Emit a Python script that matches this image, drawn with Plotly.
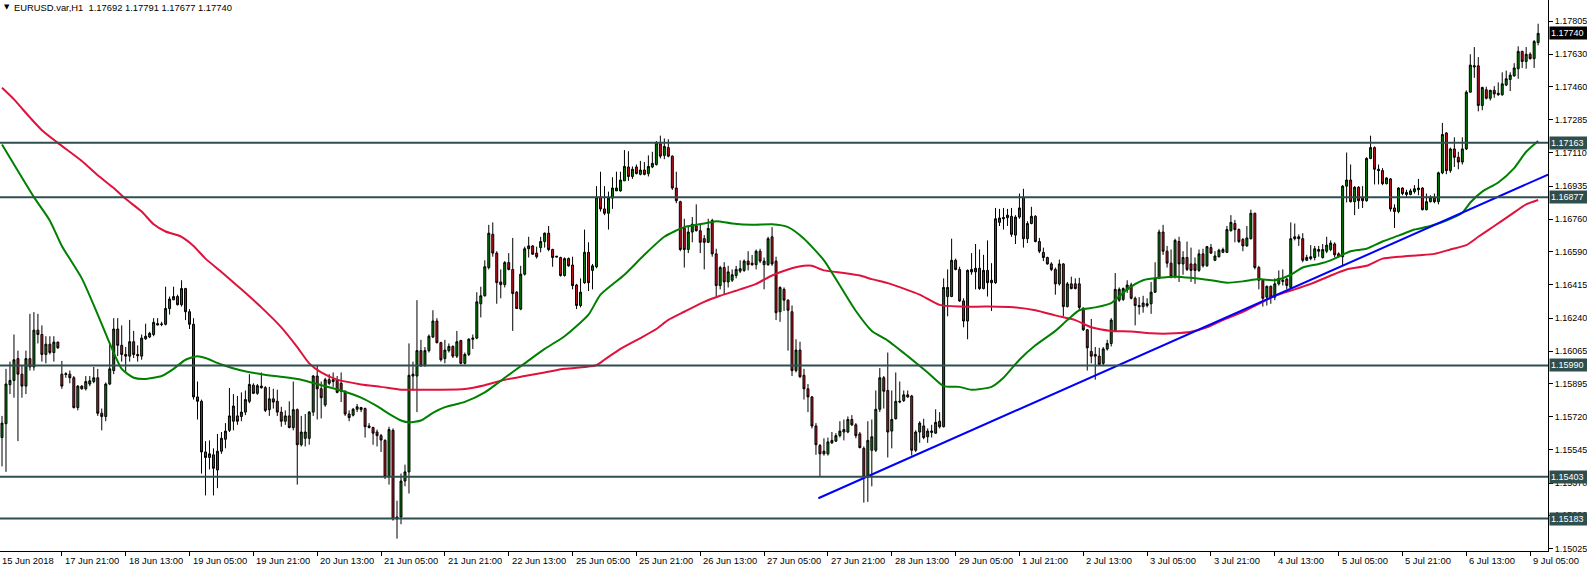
import plotly.graph_objects as go

# ---------------- data (EURUSD H1, bars indexed 0..385 from 15 Jun 2018 06:00) ----------------
opens = [
    1.15610, 1.15683, 1.15888, 1.15911, 1.16026, 1.15944, 1.15881, 1.16026, 1.15982, 1.16176,
    1.16153, 1.16048, 1.16102, 1.16058, 1.16113, 1.15944, 1.15942, 1.15944, 1.15925, 1.15768,
    1.15881, 1.15867, 1.15892, 1.15905, 1.15925, 1.15738, 1.15721, 1.15892, 1.15963, 1.16182,
    1.16096, 1.16048, 1.16039, 1.16115, 1.16048, 1.16039, 1.16130, 1.16140, 1.16153, 1.16203,
    1.16206, 1.16207, 1.16290, 1.16336, 1.16353, 1.16310, 1.16395, 1.16273, 1.16207, 1.15824,
    1.15801, 1.15534, 1.15505, 1.15519, 1.15439, 1.15538,
    1.15601, 1.15648, 1.15696, 1.15724, 1.15721, 1.15744, 1.15801, 1.15886, 1.15843, 1.15881,
    1.15873, 1.15757, 1.15814, 1.15801, 1.15744, 1.15696, 1.15724, 1.15662, 1.15757, 1.15572,
    1.15606, 1.15606, 1.15744, 1.15934, 1.15867, 1.15782, 1.15915, 1.15905, 1.15915, 1.15896,
    1.15854, 1.15734, 1.15728, 1.15759, 1.15768, 1.15763, 1.15671, 1.15663, 1.15639, 1.15620,
    1.15595, 1.15404, 1.15648, 1.15191, 1.15191, 1.15381, 1.15429, 1.15944, 1.15934, 1.16068,
    1.15991, 1.16068, 1.16140, 1.16224, 1.16110,
    1.16026, 1.16068, 1.16090, 1.16039, 1.16121, 1.16001, 1.16048, 1.16128, 1.16134, 1.16315,
    1.16357, 1.16506, 1.16681, 1.16582, 1.16430, 1.16416, 1.16532, 1.16496, 1.16376, 1.16287,
    1.16471, 1.16605, 1.16620, 1.16582, 1.16611, 1.16643, 1.16687, 1.16601, 1.16561, 1.16559,
    1.16464, 1.16553, 1.16519, 1.16414, 1.16306, 1.16426, 1.16586, 1.16491, 1.16510, 1.16877,
    1.16815, 1.16792, 1.16872, 1.16910, 1.16910, 1.16963, 1.17036, 1.16986, 1.17036, 1.16997,
    1.17020, 1.17001, 1.17036, 1.17049, 1.17158,
    1.17097, 1.17138, 1.17093, 1.16925, 1.16853, 1.16715, 1.16601, 1.16693, 1.16725, 1.16700,
    1.16658, 1.16639, 1.16754, 1.16578, 1.16411, 1.16506, 1.16430, 1.16439, 1.16464, 1.16487,
    1.16491, 1.16540, 1.16529, 1.16521, 1.16592, 1.16521, 1.16521, 1.16668, 1.16540, 1.16273,
    1.16391, 1.16334, 1.16273, 1.15963, 1.16071, 1.15938, 1.15867, 1.15824, 1.15671, 1.15568,
    1.15524, 1.15524, 1.15582, 1.15591, 1.15620, 1.15639, 1.15639, 1.15705, 1.15677, 1.15629,
    1.15553, 1.15401, 1.15543, 1.15543, 1.15759, 1.15925,
    1.15858, 1.15644, 1.15709, 1.15797, 1.15805, 1.15835, 1.15829, 1.15543, 1.15639, 1.15671,
    1.15614, 1.15637, 1.15633, 1.15696, 1.15667, 1.16353, 1.16353, 1.16544, 1.16496, 1.16330,
    1.16224, 1.16483, 1.16483, 1.16502, 1.16395, 1.16491, 1.16426, 1.16426, 1.16744, 1.16763,
    1.16769, 1.16776, 1.16677, 1.16772, 1.16877, 1.16658, 1.16738, 1.16776, 1.16643, 1.16586,
    1.16559, 1.16525, 1.16496, 1.16420, 1.16525, 1.16300, 1.16420, 1.16420, 1.16420, 1.16292,
    1.16178, 1.16064, 1.16048, 1.16039, 1.16001, 1.16077,
    1.16106, 1.16172, 1.16334, 1.16338, 1.16388, 1.16414, 1.16344, 1.16306, 1.16300, 1.16306,
    1.16315, 1.16376, 1.16449, 1.16693, 1.16592, 1.16529, 1.16458, 1.16643, 1.16525, 1.16559,
    1.16525, 1.16525, 1.16491, 1.16578, 1.16515, 1.16611, 1.16544, 1.16563, 1.16586, 1.16586,
    1.16700, 1.16738, 1.16706, 1.16654, 1.16620, 1.16658, 1.16792, 1.16506, 1.16439, 1.16350,
    1.16407, 1.16350, 1.16420, 1.16433, 1.16445, 1.16401, 1.16668, 1.16668, 1.16658, 1.16544,
    1.16553, 1.16559, 1.16601, 1.16559, 1.16592, 1.16601,
    1.16630, 1.16578, 1.16563, 1.16935, 1.16967, 1.16853, 1.16929, 1.16872, 1.16858, 1.17081,
    1.17138, 1.17024, 1.17017, 1.16948, 1.16973, 1.16820, 1.16801, 1.16925, 1.16902, 1.16891,
    1.16906, 1.16916, 1.16925, 1.16811, 1.16853, 1.16872, 1.16853, 1.17005, 1.17215, 1.17017,
    1.17131, 1.17087, 1.17062, 1.17131, 1.17430, 1.17563, 1.17569, 1.17360, 1.17443, 1.17398,
    1.17440, 1.17417, 1.17417, 1.17468, 1.17497, 1.17516, 1.17554, 1.17645, 1.17592, 1.17630,
    1.17607, 1.17692,
]

highs = [
    1.15724, 1.15972, 1.16010, 1.16153, 1.16068, 1.15991, 1.16068, 1.16262, 1.16271, 1.16262,
    1.16201, 1.16144, 1.16144, 1.16144, 1.16115, 1.16014, 1.15954, 1.15963, 1.15934, 1.15886,
    1.15886, 1.15934, 1.15934, 1.15982, 1.15972, 1.15763, 1.15900, 1.16106, 1.16239, 1.16239,
    1.16201, 1.16087, 1.16230, 1.16172, 1.16096, 1.16153, 1.16210, 1.16167, 1.16239, 1.16239,
    1.16220, 1.16405, 1.16353, 1.16405, 1.16363, 1.16439, 1.16399, 1.16287, 1.16239, 1.15905,
    1.15810, 1.15591, 1.15595, 1.15553, 1.15629, 1.15639,
    1.15686, 1.15871, 1.15839, 1.15829, 1.15848, 1.15858, 1.15944, 1.15896, 1.15892, 1.15953,
    1.15881, 1.15877, 1.15867, 1.15862, 1.15772, 1.15753, 1.15801, 1.15905, 1.15763, 1.15724,
    1.15734, 1.15750, 1.15940, 1.15991, 1.15905, 1.15925, 1.15944, 1.15953, 1.15934, 1.15953,
    1.15858, 1.15753, 1.15766, 1.15787, 1.15772, 1.15768, 1.15686, 1.15667, 1.15652, 1.15629,
    1.15601, 1.15667, 1.15658, 1.15277, 1.15420, 1.15467, 1.16106, 1.16010, 1.16334, 1.16125,
    1.16087, 1.16153, 1.16281, 1.16239, 1.16115,
    1.16125, 1.16106, 1.16096, 1.16172, 1.16125, 1.16058, 1.16134, 1.16153, 1.16376, 1.16405,
    1.16544, 1.16731, 1.16744, 1.16592, 1.16496, 1.16540, 1.16582, 1.16662, 1.16382, 1.16515,
    1.16616, 1.16668, 1.16624, 1.16616, 1.16668, 1.16691, 1.16725, 1.16605, 1.16567, 1.16563,
    1.16559, 1.16559, 1.16563, 1.16420, 1.16449, 1.16706, 1.16639, 1.16525, 1.16935, 1.17011,
    1.16935, 1.16906, 1.16982, 1.17011, 1.17011, 1.17125, 1.17119, 1.17039, 1.17049, 1.17068,
    1.17062, 1.17097, 1.17116, 1.17173, 1.17201,
    1.17186, 1.17182, 1.17097, 1.17011, 1.16858, 1.16763, 1.16725, 1.16772, 1.16839, 1.16734,
    1.16677, 1.16763, 1.16763, 1.16605, 1.16515, 1.16534, 1.16515, 1.16496, 1.16515, 1.16544,
    1.16548, 1.16592, 1.16572, 1.16601, 1.16605, 1.16559, 1.16668, 1.16719, 1.16563, 1.16407,
    1.16401, 1.16338, 1.16306, 1.16128, 1.16115, 1.15972, 1.15892, 1.15829, 1.15686, 1.15576,
    1.15606, 1.15610, 1.15639, 1.15633, 1.15696, 1.15705, 1.15721, 1.15728, 1.15686, 1.15639,
    1.15563, 1.15696, 1.15705, 1.15858, 1.15976, 1.15934,
    1.16058, 1.15858, 1.15953, 1.15905, 1.15858, 1.15858, 1.15835, 1.15648, 1.15696, 1.15709,
    1.15658, 1.15677, 1.15759, 1.15744, 1.16449, 1.16496, 1.16658, 1.16553, 1.16510, 1.16344,
    1.16496, 1.16582, 1.16630, 1.16601, 1.16573, 1.16649, 1.16529, 1.16820, 1.16815, 1.16820,
    1.16815, 1.16820, 1.16782, 1.16896, 1.16921, 1.16750, 1.16826, 1.16782, 1.16662, 1.16611,
    1.16563, 1.16534, 1.16506, 1.16548, 1.16529, 1.16430, 1.16458, 1.16449, 1.16452, 1.16296,
    1.16182, 1.16235, 1.16087, 1.16083, 1.16087, 1.16125,
    1.16239, 1.16477, 1.16401, 1.16401, 1.16439, 1.16426, 1.16353, 1.16350, 1.16357, 1.16344,
    1.16430, 1.16534, 1.16706, 1.16731, 1.16620, 1.16601, 1.16658, 1.16668, 1.16592, 1.16643,
    1.16611, 1.16559, 1.16601, 1.16605, 1.16620, 1.16630, 1.16592, 1.16605, 1.16611, 1.16725,
    1.16782, 1.16757, 1.16712, 1.16662, 1.16725, 1.16811, 1.16795, 1.16515, 1.16445, 1.16411,
    1.16411, 1.16449, 1.16491, 1.16496, 1.16452, 1.16744, 1.16738, 1.16681, 1.16687, 1.16573,
    1.16624, 1.16620, 1.16620, 1.16630, 1.16668, 1.16649,
    1.16639, 1.16586, 1.16940, 1.17112, 1.17049, 1.16935, 1.16935, 1.16935, 1.17087, 1.17201,
    1.17144, 1.17049, 1.17030, 1.16982, 1.16978, 1.16839, 1.16929, 1.16929, 1.16916, 1.16921,
    1.16940, 1.16973, 1.16929, 1.16896, 1.16887, 1.16896, 1.17011, 1.17268, 1.17220, 1.17138,
    1.17192, 1.17116, 1.17192, 1.17440, 1.17630, 1.17668, 1.17615, 1.17459, 1.17459, 1.17443,
    1.17462, 1.17482, 1.17535, 1.17544, 1.17535, 1.17583, 1.17672, 1.17649, 1.17668, 1.17640,
    1.17705, 1.17791,
]

lows = [
    1.15458, 1.15429, 1.15839, 1.15820, 1.15591, 1.15820, 1.15839, 1.15963, 1.15963, 1.16106,
    1.16010, 1.16001, 1.16048, 1.16010, 1.16077, 1.15867, 1.15925, 1.15896, 1.15763, 1.15753,
    1.15862, 1.15858, 1.15881, 1.15896, 1.15724, 1.15648, 1.15696, 1.15886, 1.15944, 1.16039,
    1.16010, 1.15957, 1.16010, 1.16029, 1.16010, 1.16020, 1.16125, 1.16134, 1.16144, 1.16201,
    1.16197, 1.16201, 1.16258, 1.16334, 1.16306, 1.16300, 1.16229, 1.16182, 1.15810, 1.15705,
    1.15420, 1.15305, 1.15442, 1.15305, 1.15343, 1.15524,
    1.15553, 1.15639, 1.15648, 1.15677, 1.15696, 1.15728, 1.15791, 1.15839, 1.15835, 1.15867,
    1.15744, 1.15724, 1.15763, 1.15724, 1.15667, 1.15677, 1.15658, 1.15648, 1.15362, 1.15563,
    1.15563, 1.15572, 1.15724, 1.15705, 1.15711, 1.15772, 1.15886, 1.15877, 1.15843, 1.15797,
    1.15724, 1.15696, 1.15721, 1.15744, 1.15744, 1.15610, 1.15658, 1.15572, 1.15563, 1.15534,
    1.15391, 1.15362, 1.15172, 1.15077, 1.15153, 1.15353, 1.15315, 1.15858, 1.15744, 1.15982,
    1.15982, 1.16058, 1.16134, 1.16106, 1.16010,
    1.16001, 1.16058, 1.16029, 1.16029, 1.15995, 1.15995, 1.16039, 1.16077, 1.16128, 1.16243,
    1.16353, 1.16496, 1.16563, 1.16315, 1.16344, 1.16401, 1.16491, 1.16172, 1.16287, 1.16281,
    1.16464, 1.16559, 1.16573, 1.16553, 1.16586, 1.16611, 1.16592, 1.16510, 1.16559, 1.16458,
    1.16458, 1.16510, 1.16391, 1.16287, 1.16296, 1.16420, 1.16382, 1.16391, 1.16502, 1.16801,
    1.16782, 1.16706, 1.16815, 1.16910, 1.16906, 1.16963, 1.16963, 1.16973, 1.16997, 1.16992,
    1.16992, 1.16986, 1.17030, 1.17043, 1.17081,
    1.17077, 1.17087, 1.16915, 1.16845, 1.16592, 1.16506, 1.16582, 1.16639, 1.16696, 1.16582,
    1.16496, 1.16635, 1.16563, 1.16353, 1.16391, 1.16363, 1.16401, 1.16430, 1.16449, 1.16477,
    1.16483, 1.16491, 1.16515, 1.16496, 1.16529, 1.16391, 1.16515, 1.16515, 1.16229, 1.16220,
    1.16277, 1.16068, 1.15934, 1.15953, 1.15925, 1.15810, 1.15744, 1.15658, 1.15519, 1.15404,
    1.15515, 1.15515, 1.15576, 1.15587, 1.15610, 1.15595, 1.15633, 1.15671, 1.15606, 1.15553,
    1.15267, 1.15271, 1.15353, 1.15534, 1.15744, 1.15763,
    1.15505, 1.15553, 1.15705, 1.15791, 1.15797, 1.15820, 1.15515, 1.15534, 1.15582, 1.15601,
    1.15582, 1.15610, 1.15629, 1.15658, 1.15663, 1.16249, 1.16350, 1.16491, 1.16325, 1.16191,
    1.16128, 1.16468, 1.16391, 1.16388, 1.16391, 1.16353, 1.16277, 1.16420, 1.16725, 1.16706,
    1.16725, 1.16668, 1.16630, 1.16763, 1.16611, 1.16635, 1.16734, 1.16639, 1.16582, 1.16540,
    1.16521, 1.16487, 1.16363, 1.16411, 1.16249, 1.16296, 1.16391, 1.16391, 1.16277, 1.16172,
    1.15963, 1.16001, 1.15915, 1.15991, 1.15991, 1.16068,
    1.16090, 1.16167, 1.16325, 1.16330, 1.16372, 1.16338, 1.16201, 1.16258, 1.16268, 1.16296,
    1.16262, 1.16372, 1.16445, 1.16573, 1.16506, 1.16449, 1.16449, 1.16430, 1.16468, 1.16487,
    1.16430, 1.16420, 1.16483, 1.16506, 1.16510, 1.16578, 1.16540, 1.16559, 1.16582, 1.16582,
    1.16696, 1.16639, 1.16635, 1.16592, 1.16616, 1.16654, 1.16496, 1.16391, 1.16300, 1.16306,
    1.16315, 1.16334, 1.16411, 1.16411, 1.16391, 1.16391, 1.16649, 1.16620, 1.16534, 1.16540,
    1.16544, 1.16544, 1.16563, 1.16553, 1.16582, 1.16592,
    1.16559, 1.16559, 1.16515, 1.16849, 1.16849, 1.16782, 1.16815, 1.16820, 1.16853, 1.17077,
    1.16944, 1.16944, 1.16940, 1.16944, 1.16801, 1.16715, 1.16792, 1.16887, 1.16877, 1.16887,
    1.16896, 1.16887, 1.16807, 1.16807, 1.16849, 1.16845, 1.16839, 1.16998, 1.16998, 1.17005,
    1.17036, 1.17024, 1.17049, 1.17125, 1.17430, 1.17506, 1.17329, 1.17335, 1.17392, 1.17386,
    1.17401, 1.17411, 1.17411, 1.17462, 1.17436, 1.17512, 1.17501, 1.17558, 1.17554, 1.17602,
    1.17558, 1.17677,
]

closes = [
    1.15686, 1.15892, 1.15911, 1.16020, 1.15944, 1.15881, 1.16026, 1.15982, 1.16176, 1.16153,
    1.16048, 1.16102, 1.16058, 1.16113, 1.16083, 1.15881, 1.15946, 1.15925, 1.15768, 1.15881,
    1.15867, 1.15905, 1.15909, 1.15925, 1.15738, 1.15721, 1.15892, 1.15972, 1.16182, 1.16096,
    1.16048, 1.16039, 1.16115, 1.16048, 1.16041, 1.16134, 1.16144, 1.16159, 1.16217, 1.16210,
    1.16208, 1.16290, 1.16340, 1.16353, 1.16310, 1.16395, 1.16273, 1.16207, 1.15824, 1.15801,
    1.15534, 1.15505, 1.15524, 1.15448, 1.15538, 1.15606,
    1.15644, 1.15724, 1.15776, 1.15696, 1.15744, 1.15810, 1.15890, 1.15843, 1.15883, 1.15873,
    1.15753, 1.15814, 1.15797, 1.15744, 1.15696, 1.15724, 1.15663, 1.15757, 1.15572, 1.15639,
    1.15639, 1.15744, 1.15934, 1.15867, 1.15820, 1.15915, 1.15896, 1.15915, 1.15848, 1.15854,
    1.15734, 1.15715, 1.15759, 1.15772, 1.15757, 1.15667, 1.15663, 1.15633, 1.15620, 1.15597,
    1.15404, 1.15652, 1.15181, 1.15181, 1.15381, 1.15429, 1.15938, 1.15934, 1.16068, 1.15988,
    1.16068, 1.16144, 1.16224, 1.16110, 1.16020,
    1.16071, 1.16090, 1.16039, 1.16115, 1.16001, 1.16048, 1.16128, 1.16134, 1.16325, 1.16357,
    1.16510, 1.16687, 1.16582, 1.16426, 1.16416, 1.16532, 1.16496, 1.16369, 1.16290, 1.16471,
    1.16605, 1.16620, 1.16576, 1.16563, 1.16643, 1.16687, 1.16601, 1.16559, 1.16565, 1.16464,
    1.16553, 1.16515, 1.16411, 1.16306, 1.16376, 1.16586, 1.16426, 1.16515, 1.16877, 1.16815,
    1.16792, 1.16872, 1.16925, 1.16925, 1.16967, 1.17039, 1.16986, 1.17024, 1.17001, 1.17020,
    1.16997, 1.17039, 1.17055, 1.17163, 1.17093,
    1.17144, 1.17093, 1.16925, 1.16858, 1.16601, 1.16601, 1.16693, 1.16734, 1.16700, 1.16639,
    1.16639, 1.16712, 1.16578, 1.16411, 1.16506, 1.16430, 1.16483, 1.16468, 1.16496, 1.16500,
    1.16540, 1.16521, 1.16521, 1.16592, 1.16540, 1.16540, 1.16658, 1.16525, 1.16268, 1.16401,
    1.16334, 1.16281, 1.15963, 1.16071, 1.15930, 1.15867, 1.15824, 1.15671, 1.15572, 1.15524,
    1.15538, 1.15587, 1.15595, 1.15620, 1.15644, 1.15652, 1.15705, 1.15677, 1.15620, 1.15557,
    1.15401, 1.15595, 1.15614, 1.15759, 1.15925, 1.15854,
    1.15639, 1.15705, 1.15801, 1.15801, 1.15835, 1.15824, 1.15543, 1.15639, 1.15686, 1.15610,
    1.15644, 1.15644, 1.15690, 1.15667, 1.16401, 1.16401, 1.16544, 1.16496, 1.16330, 1.16224,
    1.16491, 1.16496, 1.16502, 1.16395, 1.16491, 1.16426, 1.16439, 1.16763, 1.16767, 1.16769,
    1.16782, 1.16681, 1.16772, 1.16820, 1.16658, 1.16738, 1.16776, 1.16643, 1.16592, 1.16559,
    1.16525, 1.16496, 1.16420, 1.16525, 1.16300, 1.16420, 1.16395, 1.16395, 1.16296, 1.16178,
    1.16083, 1.16039, 1.16039, 1.15995, 1.16077, 1.16106,
    1.16229, 1.16391, 1.16391, 1.16395, 1.16414, 1.16344, 1.16306, 1.16300, 1.16319, 1.16315,
    1.16376, 1.16449, 1.16693, 1.16592, 1.16529, 1.16458, 1.16649, 1.16525, 1.16559, 1.16496,
    1.16491, 1.16491, 1.16578, 1.16515, 1.16616, 1.16582, 1.16567, 1.16597, 1.16601, 1.16706,
    1.16744, 1.16706, 1.16643, 1.16620, 1.16662, 1.16792, 1.16506, 1.16439, 1.16344, 1.16407,
    1.16350, 1.16420, 1.16449, 1.16439, 1.16411, 1.16658, 1.16658, 1.16658, 1.16544, 1.16559,
    1.16563, 1.16605, 1.16592, 1.16601, 1.16624, 1.16635,
    1.16573, 1.16563, 1.16935, 1.16967, 1.16853, 1.16929, 1.16858, 1.16858, 1.17081, 1.17138,
    1.17024, 1.17017, 1.16948, 1.16978, 1.16815, 1.16801, 1.16925, 1.16896, 1.16891, 1.16910,
    1.16921, 1.16925, 1.16811, 1.16853, 1.16877, 1.16853, 1.17005, 1.17207, 1.17017, 1.17131,
    1.17087, 1.17062, 1.17131, 1.17430, 1.17573, 1.17569, 1.17360, 1.17455, 1.17398, 1.17440,
    1.17421, 1.17424, 1.17474, 1.17501, 1.17520, 1.17558, 1.17645, 1.17592, 1.17630, 1.17607,
    1.17697, 1.17740,
]

# moving averages (bar index, price)
ma_fast_bars = [0, 8, 12, 15, 20, 24, 27, 30, 33, 36, 40, 43, 46, 49, 51, 55, 60, 65, 70, 75,
                80, 85, 90, 94, 97, 100, 102, 105, 108, 111, 116, 121, 126, 131, 136, 141, 147, 150,
                156, 161, 166, 171, 176, 179, 183, 188, 193, 197, 201, 206, 210, 214, 218, 222, 227,
                232, 236, 240, 243, 248, 251, 255, 259, 264, 267, 270, 274, 278, 282, 286, 290, 294,
                298, 303, 307, 311, 315, 319, 323, 326, 330, 333, 338, 342, 346, 350, 354, 358, 362,
                366, 368, 371, 375, 379, 382, 385]
ma_fast_vals = [1.17154, 1.16877, 1.16753, 1.16620, 1.16449, 1.16258, 1.16106, 1.15972, 1.15925,
                1.15919, 1.15934, 1.15972, 1.16020, 1.16039, 1.16029, 1.15995, 1.15963, 1.15944,
                1.15930, 1.15915, 1.15886, 1.15858, 1.15820, 1.15775, 1.15735, 1.15700, 1.15690,
                1.15700, 1.15740, 1.15770, 1.15798, 1.15848, 1.15925, 1.16001, 1.16077, 1.16144,
                1.16258, 1.16363, 1.16468, 1.16573, 1.16668, 1.16719, 1.16738, 1.16750, 1.16738,
                1.16731, 1.16734, 1.16719, 1.16658, 1.16544, 1.16411, 1.16277, 1.16172, 1.16121,
                1.16039, 1.15953, 1.15881, 1.15877, 1.15862, 1.15877, 1.15925, 1.16020, 1.16096,
                1.16172, 1.16229, 1.16281, 1.16296, 1.16319, 1.16391, 1.16439, 1.16452, 1.16458,
                1.16452, 1.16439, 1.16426, 1.16433, 1.16445, 1.16439, 1.16468, 1.16506, 1.16525,
                1.16544, 1.16592, 1.16605, 1.16643, 1.16674, 1.16706, 1.16725, 1.16754, 1.16795,
                1.16849, 1.16906, 1.16954, 1.17030, 1.17116, 1.17173]

ma_slow_bars = [0, 3, 7, 10, 14, 20, 24, 28, 31, 35, 38, 41, 45, 48, 51, 55, 60, 65, 70, 74, 77,
                80, 84, 90, 95, 100, 105, 110, 116, 121, 126, 131, 136, 141, 146, 149, 151, 155, 160,
                164, 167, 171, 176, 180, 185, 189, 193, 197, 201, 203, 206, 211, 215, 218, 222, 226,
                230, 235, 240, 247, 254, 259, 264, 269, 273, 278, 283, 288, 294, 298, 302, 306, 311,
                315, 319, 324, 328, 334, 337, 342, 346, 350, 355, 359, 363, 367, 370, 374, 378, 382,
                385]
ma_slow_vals = [1.17453, 1.17392, 1.17297, 1.17230, 1.17163, 1.17068, 1.16992, 1.16925, 1.16868,
                1.16801, 1.16734, 1.16696, 1.16668, 1.16620, 1.16553, 1.16483, 1.16391, 1.16296,
                1.16191, 1.16087, 1.16001, 1.15953, 1.15915, 1.15890, 1.15877, 1.15862, 1.15862,
                1.15862, 1.15866, 1.15886, 1.15915, 1.15934, 1.15953, 1.15972, 1.15982, 1.15991,
                1.16020, 1.16077, 1.16134, 1.16182, 1.16230, 1.16273, 1.16325, 1.16357, 1.16391,
                1.16420, 1.16464, 1.16496, 1.16515, 1.16515, 1.16491, 1.16477, 1.16464, 1.16445,
                1.16424, 1.16395, 1.16363, 1.16309, 1.16300, 1.16300, 1.16296, 1.16281, 1.16254,
                1.16229, 1.16191, 1.16172, 1.16169, 1.16159, 1.16159, 1.16167, 1.16191, 1.16229,
                1.16273, 1.16315, 1.16357, 1.16391, 1.16420, 1.16472, 1.16496, 1.16515, 1.16553,
                1.16563, 1.16571, 1.16578, 1.16601, 1.16624, 1.16668, 1.16725, 1.16782, 1.16839,
                1.16862]

# trend line anchors (bar index, price)
trend_bars = [204.6, 387.5]
trend_prices = [1.15290, 1.16996]

# horizontal levels
levels = [1.17163, 1.16877, 1.15990, 1.15403, 1.15183]

# price scale labels
price_ticks = [1.17805, 1.17630, 1.17460, 1.17285, 1.17110, 1.16935, 1.16760, 1.16590, 1.16415,
               1.16240, 1.16065, 1.15895, 1.15720, 1.15545, 1.15370, 1.15200, 1.15025]

# time scale labels
time_labels = ["17 Jun 21:00", "18 Jun 13:00", "19 Jun 05:00", "19 Jun 21:00", "20 Jun 13:00",
               "21 Jun 05:00", "21 Jun 21:00", "22 Jun 13:00", "25 Jun 05:00", "25 Jun 21:00",
               "26 Jun 13:00", "27 Jun 05:00", "27 Jun 21:00", "28 Jun 13:00", "29 Jun 05:00",
               "1 Jul 21:00", "2 Jul 13:00", "3 Jul 05:00", "3 Jul 21:00", "4 Jul 13:00",
               "5 Jul 05:00", "5 Jul 21:00", "6 Jul 13:00", "9 Jul 05:00"]
time_label_bars = [15 + 16 * k for k in range(len(time_labels))]
first_label = "15 Jun 2018"

symbol_text = "EURUSD.var,H1\u00a0\u00a01.17692 1.17791 1.17677 1.17740"
last_price = 1.17740

# ---------------- figure ----------------
FONT = "Liberation Sans, Arial, sans-serif"
bars = list(range(len(opens)))

fig = go.Figure()

fig.add_trace(go.Candlestick(
    x=bars, open=opens, high=highs, low=lows, close=closes,
    increasing=dict(fillcolor="#008000", line=dict(color="#000000", width=1)),
    decreasing=dict(fillcolor="#C8101E", line=dict(color="#000000", width=1)),
    whiskerwidth=0, hoverinfo="skip", showlegend=False,
))

fig.add_trace(go.Scatter(x=ma_slow_bars, y=ma_slow_vals, mode="lines",
                         line=dict(color="#E0123C", width=2, shape="spline", smoothing=0.6),
                         hoverinfo="skip", showlegend=False))
fig.add_trace(go.Scatter(x=ma_fast_bars, y=ma_fast_vals, mode="lines",
                         line=dict(color="#008000", width=2, shape="spline", smoothing=0.6),
                         hoverinfo="skip", showlegend=False))
fig.add_trace(go.Scatter(x=trend_bars, y=trend_prices, mode="lines",
                         line=dict(color="#0000FF", width=2),
                         hoverinfo="skip", showlegend=False))

for lv in levels:
    fig.add_shape(type="line", xref="paper", x0=0, x1=1, yref="y", y0=lv, y1=lv,
                  line=dict(color="#2F4F4F", width=2), layer="above")

annotations = []
for lv in levels:
    annotations.append(dict(xref="paper", x=1, xanchor="left", xshift=1, yref="y", y=lv,
                            yanchor="middle", text=f"{lv:.5f}", showarrow=False,
                            bgcolor="#2F4F4F", font=dict(family=FONT, size=9, color="#FFFFFF"),
                            borderpad=1, width=35, align="left"))
annotations.append(dict(xref="paper", x=1, xanchor="left", xshift=1, yref="y", y=last_price,
                        yanchor="middle", text=f"{last_price:.5f}", showarrow=False,
                        bgcolor="#000000", font=dict(family=FONT, size=9, color="#FFFFFF"),
                        borderpad=1, width=35, align="left"))
for b, t in zip(time_label_bars, time_labels):
    annotations.append(dict(xref="x", x=b, xanchor="left", xshift=1, yref="paper", y=0,
                            yanchor="top", yshift=-2, text=t, showarrow=False,
                            font=dict(family=FONT, size=9.4, color="#000000")))
annotations.append(dict(xref="x", x=-0.5, xanchor="left", xshift=0, yref="paper", y=0,
                        yanchor="top", yshift=-2, text=first_label, showarrow=False,
                        font=dict(family=FONT, size=9.4, color="#000000")))
annotations.append(dict(xref="paper", x=0, xanchor="left", xshift=2, yref="paper", y=1,
                        yanchor="top", yshift=-1, text="\u25BC", showarrow=False,
                        font=dict(family="DejaVu Sans", size=7, color="#000000")))
annotations.append(dict(xref="paper", x=0, xanchor="left", xshift=12, yref="paper", y=1,
                        yanchor="top", yshift=0, text=symbol_text, showarrow=False,
                        font=dict(family=FONT, size=9.4, color="#000000")))

fig.update_layout(
    width=1587, height=567,
    margin=dict(l=0, r=39, t=0, b=16, pad=0),
    paper_bgcolor="#FFFFFF", plot_bgcolor="#FFFFFF",
    showlegend=False, hovermode=False,
    annotations=annotations,
    xaxis=dict(range=[-0.501, 387.47], rangeslider=dict(visible=False), showgrid=False,
               zeroline=False, showline=True, linecolor="#000000", linewidth=1,
               ticks="outside", ticklen=4, tickcolor="#000000", tickwidth=1,
               tickvals=time_label_bars, showticklabels=False, fixedrange=True),
    yaxis=dict(side="right", range=[1.15012, 1.17916], showgrid=False, zeroline=False,
               showline=True, linecolor="#000000", linewidth=1,
               ticks="outside", ticklen=4, tickcolor="#000000", tickwidth=1,
               tickvals=price_ticks, ticktext=[f"{v:.5f}" for v in price_ticks],
               tickfont=dict(family=FONT, size=9, color="#000000"), fixedrange=True),
)

fig.write_html("out.html", config={"displayModeBar": False},
               post_script="document.body.style.margin='0';document.body.style.padding='0';"
                           "document.documentElement.style.overflow='hidden';")
